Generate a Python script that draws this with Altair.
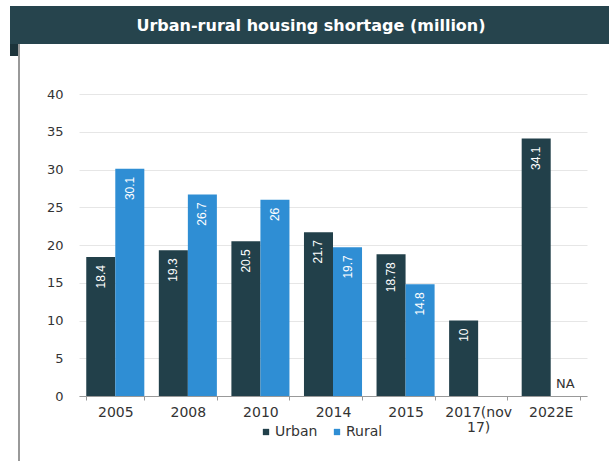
import altair as alt
import pandas as pd

years = ["2005", "2008", "2010", "2014", "2015", "2017(nov\n17)", "2022E"]
urban = [18.4, 19.3, 20.5, 21.7, 18.78, 10, 34.1]
rural = [30.1, 26.7, 26, 19.7, 14.8, None, None]
rural_text = ["30.1", "26.7", "26", "19.7", "14.8", "", "NA"]
urban_text = ["18.4", "19.3", "20.5", "21.7", "18.78", "10", "34.1"]
series = ["Urban", "Rural"]
colors = ["#22404a", "#2f8ed4"]
y_ticks = [0, 5, 10, 15, 20, 25, 30, 35, 40]
title_text = "Urban-rural housing shortage (million)"

rows = []
for yr, u, r, ut, rt in zip(years, urban, rural, urban_text, rural_text):
    rows.append({"year": yr, "series": "Urban", "value": u, "label": ut})
    rows.append({"year": yr, "series": "Rural", "value": r, "label": rt})
df = pd.DataFrame(rows)

FONT = "DejaVu Sans"
LFONT = "Liberation Sans"

x = alt.X("year:N", sort=years, title=None,
          scale=alt.Scale(paddingInner=0.2, paddingOuter=0.1),
          axis=alt.Axis(labelAngle=0, labelFontSize=14, labelColor="#333333",
                        labelFont=FONT, domainColor="#999999", tickColor="#999999",
                        tickSize=4, tickBand="extent", labelPadding=5,
                        labelExpr="split(datum.label, '\\n')", labelLineHeight=15))
y = alt.Y("value:Q", title=None, scale=alt.Scale(domain=[0, 40]),
          axis=alt.Axis(values=y_ticks, domain=False,
                        ticks=False, labelFontSize=13, labelColor="#333333",
                        labelFont=FONT, labelPadding=16, gridColor="#e6e6e6"))
xoff = alt.XOffset("series:N", sort=series)

base = alt.Chart(df)

bars = base.transform_filter("isValid(datum.value)").mark_bar().encode(
    x=x, xOffset=xoff, y=y,
    color=alt.Color("series:N", sort=series,
                    scale=alt.Scale(domain=series, range=colors),
                    legend=alt.Legend(title=None, orient="none", direction="horizontal",
                                      legendX=180, legendY=331, symbolType="square",
                                      symbolSize=40, labelFontSize=14, labelFont=FONT,
                                      labelColor="#333333", columnPadding=12,
                                      labelOffset=2, symbolStrokeWidth=0)),
)

vals = base.transform_filter("isValid(datum.value)").mark_text(
    angle=270, align="right", baseline="middle", dx=-8, color="white",
    fontSize=12, font=LFONT
).encode(x=x, xOffset=xoff, y=y, text="label:N")

na = base.transform_filter("datum.label == 'NA'").mark_text(
    align="center", baseline="bottom", color="#333333", fontSize=13, font=FONT, dy=-5
).encode(x=x, xOffset=xoff, y=alt.value(302), text="label:N")

banner = alt.Chart(pd.DataFrame({"t": [title_text]})).mark_rect(color="#26444d").encode(
    x=alt.value(-69), x2=alt.value(540), y=alt.value(-88), y2=alt.value(-50))
title = alt.Chart(pd.DataFrame({"t": [title_text]})).mark_text(
    color="white", fontSize=16, fontWeight="bold", font=FONT
).encode(x=alt.value(232), y=alt.value(-68), text="t:N")
border = alt.Chart(pd.DataFrame({"t": [1]})).mark_rule(color="#777777", strokeWidth=1.5).encode(
    x=alt.value(-60), y=alt.value(-50), y2=alt.value(380))
corner = alt.Chart(pd.DataFrame({"t": [1]})).mark_rect(color="#1c343b").encode(
    x=alt.value(-69), x2=alt.value(-61), y=alt.value(-50), y2=alt.value(-38))

chart = alt.layer(banner, title, border, corner, bars, vals, na).properties(
    width=508, height=302,
    autosize=alt.AutoSizeParams(type="none"),
    padding={"left": 79, "top": 94, "right": 22, "bottom": 65},
    background="white",
).configure_view(stroke=None)

chart.save("out.html", embed_options={"renderer": "svg", "actions": False})
